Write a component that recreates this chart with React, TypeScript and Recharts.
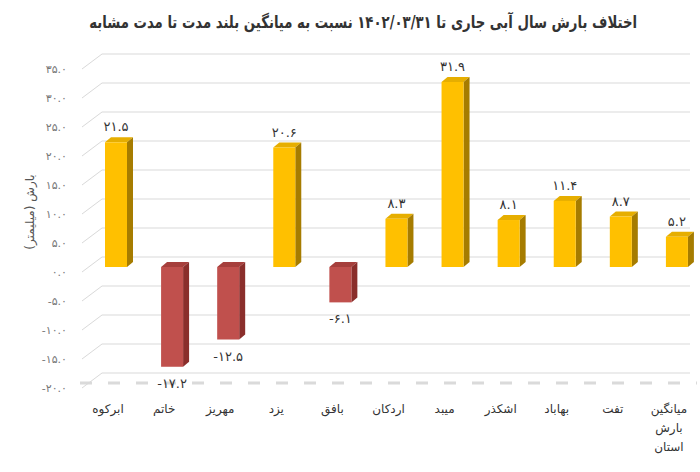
import React from 'react';
import { BarChart, Bar, XAxis, YAxis, CartesianGrid, ReferenceLine, LabelList } from 'recharts';

const categories = ['ابرکوه', 'خاتم', 'مهریز', 'یزد', 'بافق', 'اردکان', 'میبد', 'اشکذر', 'بهاباد', 'تفت', 'میانگین بارش استان'];
const values = [21.5, -17.2, -12.5, 20.6, -6.1, 8.3, 31.9, 8.1, 11.4, 8.7, 5.2];
const yTicks = [-20, -15, -10, -5, 0, 5, 10, 15, 20, 25, 30, 35];

const title = 'اختلاف بارش سال آبی جاری تا ۱۴۰۲/۰۳/۳۱ نسبت به میانگین بلند مدت تا مدت مشابه';
const yTitle = 'بارش (میلیمتر)';

const FONT = '"DejaVu Sans", sans-serif';
const SHIFT = 8; // front face offset inside the band
const DEPTH_X = 6;
const DEPTH_Y = 5;

// Persian digits
const fa = (n: number) => n.toFixed(1).replace(/\d/g, (d) => '۰۱۲۳۴۵۶۷۸۹'[Number(d)]);

const data = categories.map((name, i) => ({ name, value: values[i] }));

function Bar3D(props: any) {
  const { x, y, width, height, payload } = props;
  const top = Math.min(y, y + height);
  const h = Math.abs(height);
  const fx = x + SHIFT;
  const pos = payload.value >= 0;
  const front = pos ? '#FFC000' : '#C0504D';
  const side = pos ? '#A67C00' : '#8A2E2B';
  const cap = pos ? '#E6AE00' : '#A63F3C';
  return (
    <g>
      <polygon
        points={`${fx},${top} ${fx + DEPTH_X},${top - DEPTH_Y} ${fx + width + DEPTH_X},${top - DEPTH_Y} ${fx + width},${top}`}
        fill={cap}
      />
      <polygon
        points={`${fx + width},${top} ${fx + width + DEPTH_X},${top - DEPTH_Y} ${fx + width + DEPTH_X},${top + h - DEPTH_Y} ${fx + width},${top + h}`}
        fill={side}
      />
      <rect x={fx} y={top} width={width} height={h} fill={front} />
    </g>
  );
}

function ValueLabel(props: any) {
  const { x, y, width, height, value } = props;
  const top = Math.min(y, y + height);
  const bottom = Math.max(y, y + height);
  const cx = x + SHIFT + width / 2;
  const ty = value >= 0 ? top - 11 : bottom + 21;
  return (
    <text x={cx} y={ty} textAnchor="middle" fontSize={13} fill="#333" fontFamily={FONT}>
      {fa(value)}
    </text>
  );
}

function YTick(props: any) {
  const { y, payload } = props;
  return (
    <g>
      <text x={67} y={y + 5} textAnchor="end" dominantBaseline="central" fontSize={11} fill="#777" fontFamily={FONT}>
        {fa(payload.value)}
      </text>
      <line x1={82} y1={y + 5} x2={102} y2={y - 10} stroke="#d9d9d9" />
    </g>
  );
}

function XTick(props: any) {
  const { x, y, payload } = props;
  const lines = String(payload.value).split(' ');
  return (
    <g>
      {lines.map((ln, i) => (
        <text key={i} x={x} y={y + 22 + i * 19} textAnchor="middle" fontSize={12} fill="#333" fontFamily={FONT}>
          {ln}
        </text>
      ))}
    </g>
  );
}

export default function App() {
  return (
    <div style={{ position: 'absolute', left: 0, top: 0, width: 700, height: 472, background: '#fff', fontFamily: FONT }}>
      <div
        style={{
          position: 'absolute',
          top: 12,
          left: 0,
          width: 700,
          textAlign: 'center',
        }}
      >
        <div
          dir="rtl"
          style={{
            display: 'inline-block',
            whiteSpace: 'nowrap',
            fontSize: 17,
            fontWeight: 'bold',
            color: '#333',
            transform: 'translateX(12px) scaleX(0.78)',
            transformOrigin: 'center',
          }}
        >
          {title}
        </div>
      </div>
      <div
        dir="rtl"
        style={{
          position: 'absolute',
          left: 30,
          top: 212,
          transform: 'translate(-50%, -50%) rotate(-90deg)',
          whiteSpace: 'nowrap',
          fontSize: 12,
          color: '#555',
        }}
      >
        {yTitle}
      </div>
      <BarChart width={700} height={472} data={data} margin={{ top: 64, right: 3, bottom: 0, left: 0 }} barSize={22}>
        <CartesianGrid
          vertical={false}
          horizontal={(p: any) => (
            <line key={p.key} x1={102} x2={690} y1={p.y1 - 10} y2={p.y2 - 10} stroke="#d9d9d9" />
          )}
        />
        <XAxis dataKey="name" height={89} axisLine={false} tickLine={false} interval={0} tick={<XTick />} />
        <YAxis domain={[-20, 35]} ticks={yTicks} width={80} axisLine={false} tickLine={false} interval={0} tick={<YTick />} />
        <ReferenceLine y={-20} stroke="#dadada" strokeWidth={3} strokeDasharray="12 16" />
        <Bar dataKey="value" shape={<Bar3D />} isAnimationActive={false}>
          <LabelList dataKey="value" content={<ValueLabel />} />
        </Bar>
      </BarChart>
    </div>
  );
}
